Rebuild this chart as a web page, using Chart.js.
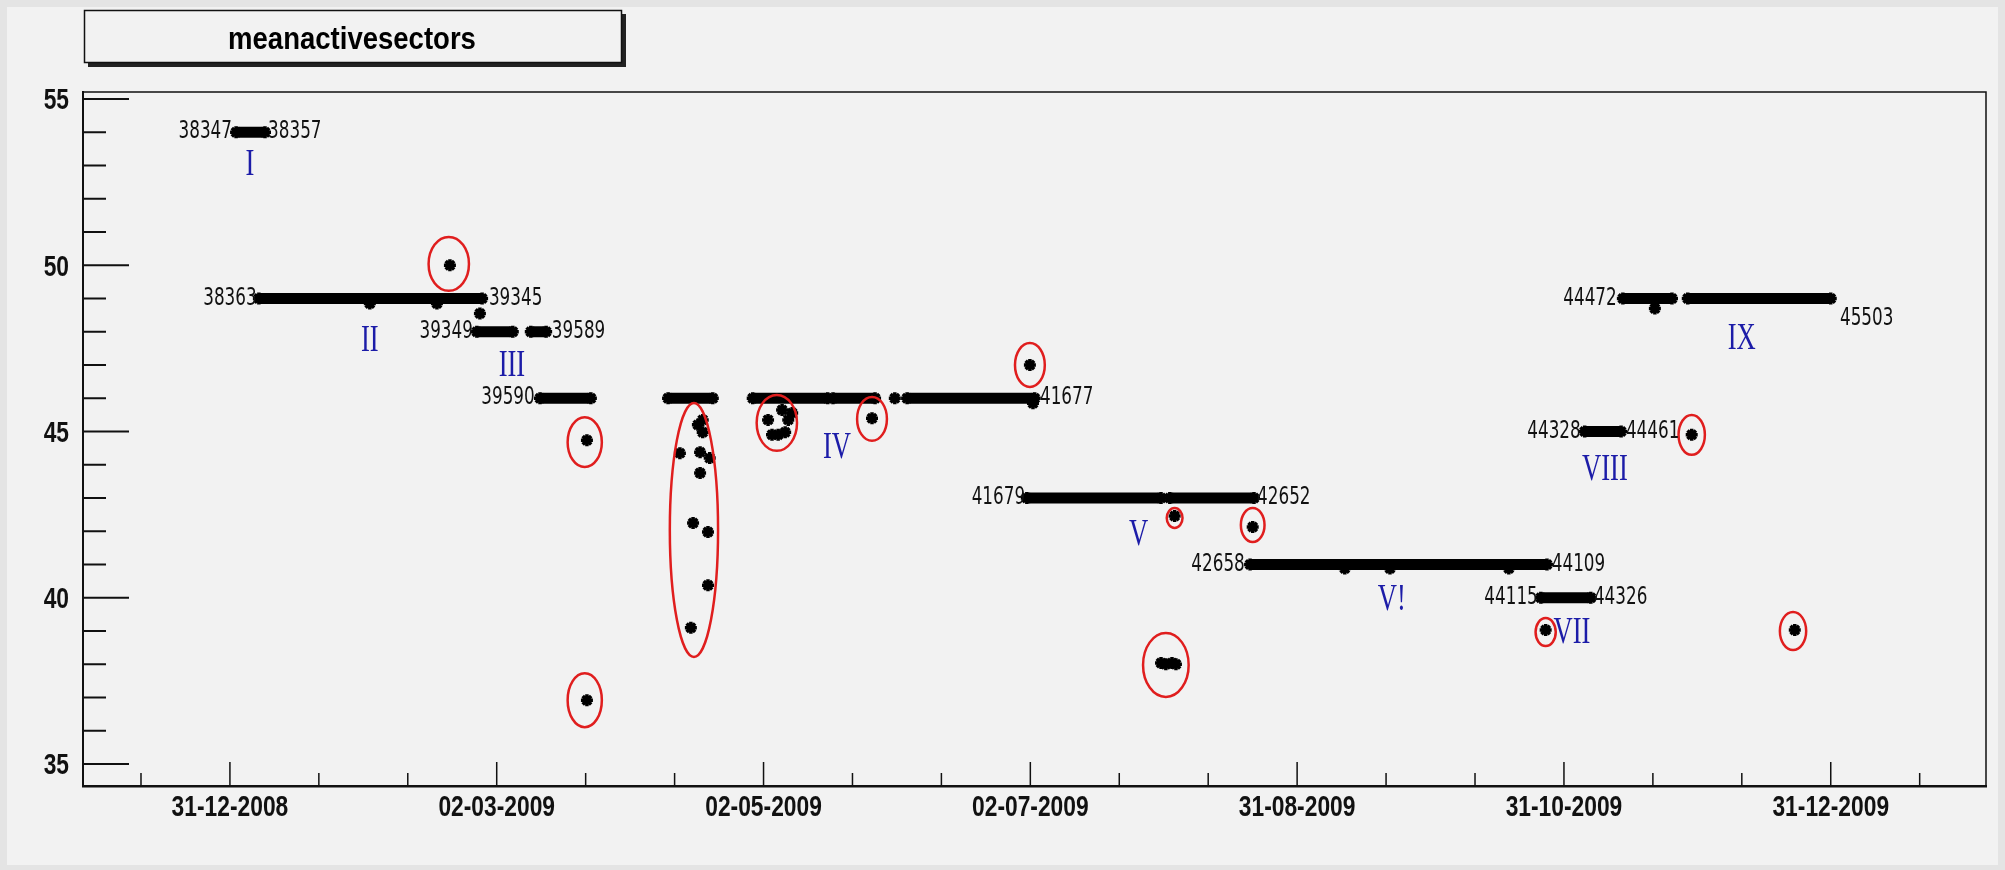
<!DOCTYPE html>
<html>
<head>
<meta charset="utf-8">
<title>meanactivesectors</title>
<script src="https://cdn.jsdelivr.net/npm/chart.js@4.4.1/dist/chart.umd.min.js"></script>
<style>
  html, body { margin: 0; padding: 0; background: #e6e6e6; }
  #wrap { width: 2005px; height: 870px; }
</style>
</head>
<body>
<div id="wrap"><canvas id="myChart" width="2005" height="870"></canvas></div>
<script>
// x is in days since 31-12-2008 00:00, y is the mean number of active sectors
const xMajorTicks = [0.5, 61.33, 122.17, 183.0, 243.83, 304.67, 365.5];
const xTickLabels = ["31-12-2008", "02-03-2009", "02-05-2009", "02-07-2009", "31-08-2009", "31-10-2009", "31-12-2009"];
const yTickValues = [35, 36, 37, 38, 39, 40, 41, 42, 43, 44, 45, 46, 47, 48, 49, 50, 51, 52, 53, 54, 55];

// stable periods: runs packed so densely they form a band
const segStart = [1.9, 7.1, 56.8, 69.1, 71.2, 100.4, 119.7, 138.0, 154.9, 182.2, 214.8, 233.1, 299.4, 309.4, 318.1, 332.9];
const segEnd   = [8.5, 58.0, 65.0, 72.6, 82.8, 110.6, 136.8, 147.6, 184.0, 212.8, 234.0, 300.8, 310.8, 317.7, 329.3, 365.5];
const segValue = [54, 49, 48, 48, 46, 46, 46, 46, 46, 43, 43, 41, 40, 45, 49, 49];

// isolated runs
const pointDay = [57.5, 32.4, 47.7, 152.1, 50.66, 81.9, 81.9,
    108.3, 108.3, 103.1, 107.7, 109.9, 107.7, 106.1, 109.5, 109.5, 105.6, 107.2,
    123.2, 124.1, 125.5, 127.1, 127.8, 126.4, 128.7,
    146.9, 182.9, 215.9, 233.7, 212.8, 213.9, 215.3, 216.2,
    254.7, 265.0, 292.1, 300.5, 333.8, 357.3, 325.4, 183.6];
const pointValue = [48.55, 48.85, 48.85, 46, 50, 44.74, 36.92,
    45.35, 44.98, 44.35, 44.38, 44.2, 43.75, 42.25, 41.98, 40.38, 39.1, 45.2,
    45.35, 44.9, 44.9, 44.98, 45.35, 45.65, 45.56,
    45.4, 47.0, 42.46, 42.13, 38.04, 38.0, 38.04, 38.0,
    40.88, 40.88, 40.88, 39.03, 44.9, 39.03, 48.7, 45.85];

// run numbers written at the ends of the periods
const runText  = ["38347", "38357", "38363", "39345", "39349", "39589", "39590", "41677", "41679",
    "42652", "42658", "44109", "44115", "44326", "44328", "44461", "44472", "45503"];
const runDay   = [0.96, 9.2, 6.59, 59.55, 55.9, 73.9, 70.0, 185.2, 181.8,
    234.7, 231.9, 301.9, 298.7, 311.5, 308.5, 318.8, 316.7, 367.6];
const runValue = [54, 54, 49, 49, 48, 48, 46, 46, 43, 43, 41, 41, 40, 40, 45, 45, 49, 48.4];
const runSide  = ["end", "start", "end", "start", "end", "start", "end", "start", "end",
    "start", "end", "start", "end", "start", "end", "start", "end", "start"];

// period names
const periodText  = ["I", "II", "III", "IV", "V", "V!", "VII", "VIII", "IX"];
const periodDay   = [5.06, 32.4, 64.8, 138.9, 207.7, 265.4, 306.5, 314.0, 345.2];
const periodValue = [53.0, 47.72, 46.97, 44.5, 41.9, 39.93, 38.94, 43.84, 47.78];

// circled outliers: centre and half extent in data units
const ellDay    = [50.4, 81.4, 81.4, 106.3, 125.2, 146.9, 182.9, 215.9, 233.7, 213.9, 300.5, 333.8, 356.9];
const ellValue  = [50.04, 44.68, 36.92, 42.04, 45.26, 45.38, 47.0, 42.4, 42.19, 37.98, 38.97, 44.9, 39.0];
const ellHalfX  = [4.6, 3.9, 3.9, 5.5, 4.6, 3.4, 3.4, 1.8, 2.7, 5.2, 2.3, 3.0, 3.0];
const ellHalfY  = [0.81, 0.75, 0.81, 3.82, 0.84, 0.66, 0.66, 0.30, 0.51, 0.96, 0.42, 0.60, 0.57];

const xTickValues = [];
xTickValues.push(xMajorTicks[0] - (xMajorTicks[1] - xMajorTicks[0]) / 3);
for (let i = 0; i < xMajorTicks.length; i++) {
    xTickValues.push(xMajorTicks[i]);
    const next = i + 1 < xMajorTicks.length ? xMajorTicks[i + 1] : xMajorTicks[i] + (xMajorTicks[i] - xMajorTicks[i - 1]);
    const step = (next - xMajorTicks[i]) / 3;
    xTickValues.push(xMajorTicks[i] + step);
    if (i + 1 < xMajorTicks.length) xTickValues.push(xMajorTicks[i] + 2 * step);
}

const axisFont = 'bold 30px "Liberation Sans", Arial, sans-serif';

const datasets = [];
for (let i = 0; i < segStart.length; i++) {
    datasets.push({
        data: [{x: segStart[i], y: segValue[i]}, {x: segEnd[i], y: segValue[i]}],
        showLine: true,
        borderColor: '#000',
        backgroundColor: '#000',
        borderWidth: 11,
        pointStyle: 'star',
        pointRadius: 6,
        pointBorderWidth: 3.5,
    });
}
datasets.push({
    data: pointDay.map((d, i) => ({x: d, y: pointValue[i]})),
    borderColor: '#000',
    backgroundColor: '#000',
    pointStyle: 'star',
    pointRadius: 6,
    pointBorderWidth: 3.5,
});

function drawText(ctx, text, x, y, font, color, align, hscale) {
    ctx.save();
    ctx.translate(x, y);
    ctx.scale(hscale, 1);
    ctx.font = font;
    ctx.fillStyle = color;
    ctx.textAlign = align;
    ctx.textBaseline = 'middle';
    ctx.fillText(text, 0, 0);
    ctx.restore();
}

const rootStyle = {
    id: 'rootStyle',
    beforeDraw(chart) {
        const ctx = chart.ctx;
        ctx.save();
        ctx.fillStyle = '#e4e4e4';
        ctx.fillRect(0, 0, chart.width, chart.height);
        ctx.fillStyle = '#f2f2f2';
        ctx.fillRect(7, 7, chart.width - 14, chart.height - 12);
        // title box with shadow
        ctx.fillStyle = '#222';
        ctx.fillRect(88, 14, 538, 53);
        ctx.fillStyle = '#f2f2f2';
        ctx.fillRect(84, 10, 538, 53);
        ctx.strokeStyle = '#111';
        ctx.lineWidth = 1.5;
        ctx.strokeRect(84.5, 10.5, 537, 52);
        ctx.restore();
        drawText(ctx, 'meanactivesectors', 352, 40, 'bold 32px "Liberation Sans", Arial, sans-serif', '#000', 'center', 0.86);
    },
    afterDatasetsDraw(chart) {
        const ctx = chart.ctx;
        const xs = chart.scales.x, ys = chart.scales.y;
        ctx.save();
        ctx.strokeStyle = '#e01e1e';
        ctx.lineWidth = 2.5;
        for (let i = 0; i < ellDay.length; i++) {
            const cx = xs.getPixelForValue(ellDay[i]);
            const cy = ys.getPixelForValue(ellValue[i]);
            const rx = Math.abs(xs.getPixelForValue(ellDay[i] + ellHalfX[i]) - cx);
            const ry = Math.abs(ys.getPixelForValue(ellValue[i] + ellHalfY[i]) - cy);
            ctx.beginPath();
            ctx.ellipse(cx, cy, rx, ry, 0, 0, Math.PI * 2);
            ctx.stroke();
        }
        ctx.restore();
        for (let i = 0; i < runText.length; i++) {
            drawText(ctx, runText[i], xs.getPixelForValue(runDay[i]), ys.getPixelForValue(runValue[i]),
                '24px "DejaVu Sans"', '#111', runSide[i] === 'end' ? 'right' : 'left', 0.7);
        }
        for (let i = 0; i < periodText.length; i++) {
            drawText(ctx, periodText[i], xs.getPixelForValue(periodDay[i]), ys.getPixelForValue(periodValue[i]),
                '38px "Liberation Serif"', '#1c1ca8', 'center', 0.7);
        }
    },
    afterDraw(chart) {
        const ctx = chart.ctx;
        const a = chart.chartArea;
        const xs = chart.scales.x, ys = chart.scales.y;
        ctx.save();
        ctx.strokeStyle = '#111';
        ctx.lineWidth = 1.5;
        ctx.beginPath();
        ctx.moveTo(a.left, a.top);
        ctx.lineTo(a.right, a.top);
        ctx.lineTo(a.right, a.bottom);
        ctx.stroke();
        ctx.lineWidth = 2;
        ctx.beginPath();
        ys.ticks.forEach(t => {
            const y = ys.getPixelForValue(t.value);
            const len = t.value % 5 === 0 ? 46 : 23;
            ctx.moveTo(a.left, y);
            ctx.lineTo(a.left + len, y);
        });
        ctx.stroke();
        ctx.lineWidth = 1.5;
        ctx.beginPath();
        xs.ticks.forEach(t => {
            const x = xs.getPixelForValue(t.value);
            const len = xMajorTicks.indexOf(t.value) >= 0 ? 24 : 13;
            ctx.moveTo(x, a.bottom);
            ctx.lineTo(x, a.bottom - len);
        });
        ctx.stroke();
        ctx.restore();
        // tick labels, narrow like the original
        ys.ticks.forEach(t => {
            if (t.value % 5 !== 0) return;
            drawText(ctx, String(t.value), a.left - 14, ys.getPixelForValue(t.value) + 2, axisFont, '#111', 'right', 0.76);
        });
        xMajorTicks.forEach((v, i) => {
            drawText(ctx, xTickLabels[i], xs.getPixelForValue(v), a.bottom + 22, axisFont, '#111', 'center', 0.76);
        });
    }
};

const ctx = document.getElementById('myChart').getContext('2d');
const myChart = new Chart(ctx, {
    type: 'scatter',
    data: { datasets: datasets },
    options: {
        responsive: false,
        animation: false,
        layout: { padding: { top: 92, right: 19, left: 0, bottom: 0 } },
        plugins: { legend: { display: false }, tooltip: { enabled: false } },
        scales: {
            x: {
                type: 'linear',
                min: -33.0,
                max: 400.9,
                grid: { display: false, drawTicks: false },
                border: { display: true, color: '#111', width: 2.5 },
                afterBuildTicks: scale => { scale.ticks = xTickValues.map(v => ({ value: v })); },
                afterFit: scale => { scale.height = 84; },
                ticks: { display: false, autoSkip: false, maxRotation: 0 }
            },
            y: {
                type: 'linear',
                min: 34.34,
                max: 55.21,
                grid: { display: false, drawTicks: false },
                border: { display: true, color: '#111', width: 2 },
                afterBuildTicks: scale => { scale.ticks = yTickValues.map(v => ({ value: v })); },
                afterFit: scale => { scale.width = 83; },
                ticks: { display: false }
            }
        }
    },
    plugins: [rootStyle]
});
</script>
</body>
</html>
